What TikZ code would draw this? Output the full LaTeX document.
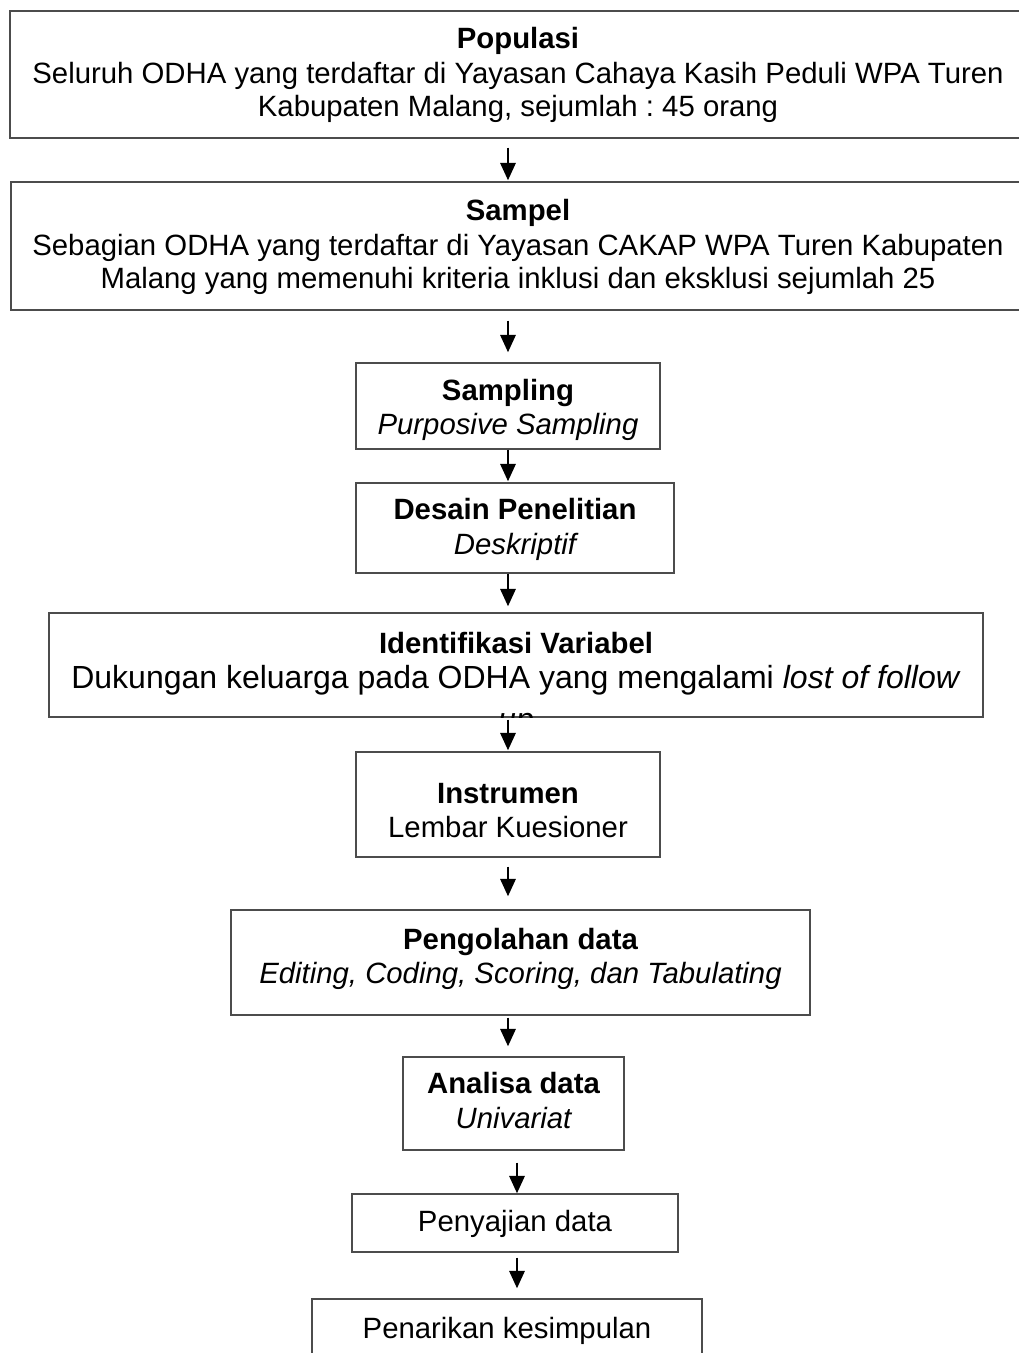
\documentclass[tikz,border=0pt]{standalone}
\usepackage{fontspec}
\setmainfont{Liberation Sans}
\usetikzlibrary{arrows.meta}
\frenchspacing
\begin{document}
\begin{tikzpicture}[x=0.75pt,y=-0.75pt,
  box/.style={draw=black!70, line width=1.1pt, inner sep=0pt},
  txt/.style={inner sep=0pt, anchor=base, font=\fontsize{22}{26}\selectfont},
  bigtxt/.style={txt, font=\fontsize{24}{28}\selectfont},
  arr/.style={-{Triangle[length=13pt,width=11.5pt]}, line width=1.5pt}]
\useasboundingbox[fill=white] (0,0) rectangle (1018,1353);
% boxes
\node[box, minimum width=765pt,    minimum height=95.25pt] (b1)  at (520,74.5) {};
\node[box, minimum width=764.25pt, minimum height=96pt]    (b2)  at (520.5,246) {};
\node[box, minimum width=228pt,    minimum height=64.5pt]  (b3)  at (508,406) {};
\node[box, minimum width=238.5pt,  minimum height=67.5pt]  (b4)  at (515,528) {};
\node[box, minimum width=700.5pt,  minimum height=78pt]    (b5)  at (516,665) {};
\node[box, minimum width=228pt,    minimum height=78.75pt] (b6)  at (508,804.5) {};
\node[box, minimum width=434.25pt, minimum height=78.75pt] (b7)  at (520.5,962.5) {};
\node[box, minimum width=165.75pt, minimum height=69.75pt] (b8)  at (513.5,1103.5) {};
\node[box, minimum width=244.5pt,  minimum height=43.5pt]  (b9)  at (515,1223) {};
\node[box, minimum width=292.5pt,  minimum height=75.75pt] (b10) at (507,1349.5) {};
% texts
\node[txt] (t1a) at (518,48)  {\bfseries Populasi};
\node[txt] (t1b) at (518,83)  {Seluruh ODHA yang terdaftar di Yayasan Cahaya Kasih Peduli WPA Turen};
\node[txt] (t1c) at (518,116) {Kabupaten Malang, sejumlah : 45 orang};
\node[txt] (t2a) at (518,220) {\bfseries Sampel};
\node[txt] (t2b) at (518,255) {Sebagian ODHA yang terdaftar di Yayasan CAKAP WPA Turen Kabupaten};
\node[txt] (t2c) at (518,288) {Malang yang memenuhi kriteria inklusi dan eksklusi sejumlah 25};
\node[txt] (t3a) at (508,400) {\bfseries Sampling};
\node[txt] (t3b) at (508,434) {\itshape Purposive Sampling};
\node[txt] (t4a) at (515,519) {\bfseries Desain Penelitian};
\node[txt] (t4b) at (515,554) {\itshape Deskriptif};
\node[txt] (t5a) at (516,653) {\bfseries Identifikasi Variabel};
\node[bigtxt] (t5b) at (516,688) {Dukungan keluarga pada ODHA yang mengalami \textit{lost of follow}};
\begin{scope}
\clip (b5.south west) rectangle (b5.north east);
\node[bigtxt] (t5c) at (516,730) {\itshape up};
\end{scope}
\node[txt] (t6a) at (508,803) {\bfseries Instrumen};
\node[txt] (t6b) at (508,837) {Lembar Kuesioner};
\node[txt] (t7a) at (520.5,949) {\bfseries Pengolahan data};
\node[txt] (t7b) at (520.5,983) {\itshape Editing, Coding, Scoring, dan Tabulating};
\node[txt] (t8a) at (513.5,1093) {\bfseries Analisa data};
\node[txt] (t8b) at (513.5,1128) {\itshape Univariat};
\node[txt] (t9)  at (515,1231) {Penyajian data};
\node[txt] (t10) at (507,1338) {Penarikan kesimpulan};
% arrow columns
\coordinate (cA) at (508,0);
\coordinate (cB) at (517,0);
% arrows
\draw[arr, shorten <=6.75pt, shorten >=0.75pt] (b1.south -| cA) -- (b2.north -| cA);
\draw[arr, shorten <=7.5pt,  shorten >=7.5pt]  (b2.south -| cA) -- (b3.north -| cA);
\draw[arr, shorten <=0pt,    shorten >=0.75pt] (b3.south -| cA) -- (b4.north -| cA);
\draw[arr, shorten <=0pt,    shorten >=4.5pt]  (b4.south -| cA) -- (b5.north -| cA);
\draw[arr, shorten <=1.5pt,  shorten >=0.75pt] (b5.south -| cA) -- (b6.north -| cA);
\draw[arr, shorten <=6.75pt, shorten >=9.75pt] (b6.south -| cA) -- (b7.north -| cA);
\draw[arr, shorten <=1.5pt,  shorten >=7.5pt]  (b7.south -| cA) -- (b8.north -| cA);
\draw[arr, shorten <=9pt,    shorten >=0pt]    (b8.south -| cB) -- (b9.north -| cB);
\draw[arr, shorten <=3.75pt, shorten >=7.5pt]  (b9.south -| cB) -- (b10.north -| cB);
\end{tikzpicture}
\end{document}
